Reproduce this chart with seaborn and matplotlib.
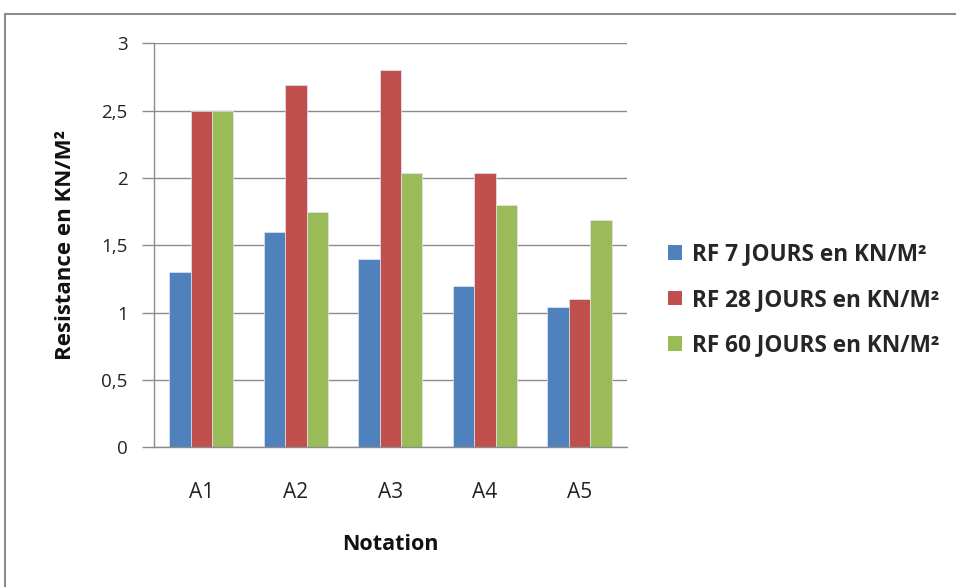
import matplotlib
matplotlib.use("Agg")
import matplotlib.pyplot as plt
import seaborn as sns
import pandas as pd
from matplotlib.patches import Rectangle, Patch
from matplotlib.ticker import FixedLocator, FuncFormatter

categories = ["A1", "A2", "A3", "A4", "A5"]
series_names = ["RF 7 JOURS en KN/M²", "RF 28 JOURS en KN/M²", "RF 60 JOURS en KN/M²"]
rf7 = [1.3, 1.6, 1.4, 1.2, 1.04]
rf28 = [2.5, 2.69, 2.8, 2.04, 1.1]
rf60 = [2.5, 1.75, 2.04, 1.8, 1.69]
colors = ["#4F81BD", "#C0504D", "#9BBB59"]

rows = []
for name, vals in zip(series_names, [rf7, rf28, rf60]):
    for cat, v in zip(categories, vals):
        rows.append({"Notation": cat, "Serie": name, "Valeur": v})
df = pd.DataFrame(rows)

sns.set_theme(style="white")
plt.rcParams["font.family"] = ["Open Sans", "DejaVu Sans"]

W, H = 956, 587
fig = plt.figure(figsize=(W / 100, H / 100), dpi=100)
ax = fig.add_axes([154 / W, 1 - 447.3 / H, (626.7 - 154) / W, (447.3 - 43.3) / H])

sns.barplot(data=df, x="Notation", y="Valeur", hue="Serie", order=categories,
            hue_order=series_names, palette=colors, width=0.68, gap=0,
            saturation=1, edgecolor="#dfe6f0", linewidth=0.5, ax=ax, legend=False)

ax.set_xlim(-0.5, 4.5)
ax.set_ylim(0, 3)
ax.yaxis.set_major_locator(FixedLocator([0, 0.5, 1, 1.5, 2, 2.5, 3]))
ax.yaxis.set_major_formatter(FuncFormatter(lambda v, p: f"{v:g}".replace(".", ",")))
ax.set_axisbelow(True)
ax.grid(axis="y", color="#8c8c8c", linewidth=1.0)
ax.grid(axis="x", visible=False)
for s in ["top", "right"]:
    ax.spines[s].set_visible(False)
ax.spines["left"].set_color("#8c8c8c")
ax.spines["bottom"].set_color("#8c8c8c")
ax.spines["left"].set_linewidth(1.0)
ax.spines["bottom"].set_linewidth(1.0)
ax.tick_params(axis="y", length=9, width=1, color="#8c8c8c", direction="out",
               labelsize=13.5, pad=10, left=True)
ax.tick_params(axis="x", length=0, labelsize=15, pad=25)
for lbl in ax.get_xticklabels() + ax.get_yticklabels():
    lbl.set_color("#222222")

ax.set_xlabel("Notation", fontsize=15.5, fontweight="bold", labelpad=22, color="#111111")
ax.set_ylabel("Resistance en KN/M²", fontsize=16, fontweight="bold", labelpad=18, color="#111111")

handles = [Patch(facecolor=c, edgecolor="none") for c in colors]
fig.legend(handles, series_names, loc="center left", bbox_to_anchor=(648 / W, 1 - 300 / H),
           frameon=False, prop={"size": 16.3, "weight": "bold"}, handlelength=0.6,
           handleheight=0.6, handletextpad=0.45, labelspacing=0.95)

# outer chart frame
fig.patches.append(Rectangle((5 / W, -0.1), 1.2, (H - 14) / H + 0.1, transform=fig.transFigure,
                             fill=False, edgecolor="#8c8c8c", linewidth=1.5))

fig.savefig("out.png", dpi=100)
